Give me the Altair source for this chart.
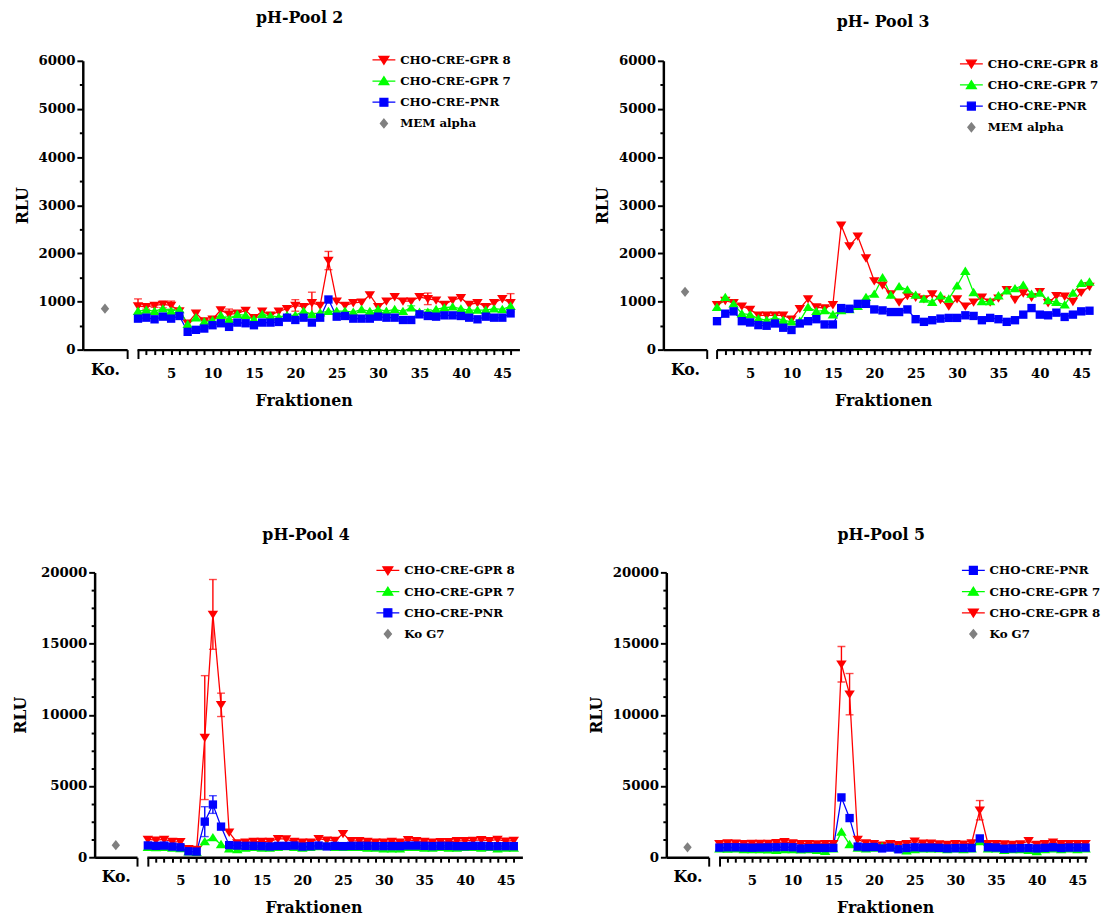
import altair as alt
import pandas as pd

FONT = "DejaVu Serif"
FRACTIONS = list(range(1, 47))

GPR8 = "CHO-CRE-GPR 8"
GPR7 = "CHO-CRE-GPR 7"
PNR = "CHO-CRE-PNR"
MEM = "MEM alpha"
KOG7 = "Ko G7"

# ---------------- data ----------------
P2_GPR8 = [904, 890, 918, 938, 918, 800, 548, 753, 596, 630, 822, 733, 753, 815, 664, 795, 712, 795, 849, 918,
           890, 973, 918, 1850, 1007, 918, 973, 986, 1137, 890, 1007, 1096, 1007, 1007, 1096, 1055, 1027, 938, 1027, 1075,
           938, 973, 890, 973, 1055, 973]
P2_GPR7 = [800, 822, 800, 849, 800, 835, 527, 664, 582, 610, 712, 630, 733, 712, 630, 733, 699, 678, 712, 712,
           800, 733, 767, 795, 800, 800, 781, 835, 795, 835, 800, 835, 795, 870, 781, 781, 835, 870, 890, 849,
           822, 822, 822, 849, 835, 904]
P2_PNR = [644, 664, 630, 685, 644, 699, 370, 411, 438, 507, 548, 473, 562, 548, 507, 562, 562, 575, 664, 616,
          664, 562, 664, 1041, 685, 699, 644, 644, 644, 685, 664, 664, 616, 616, 733, 699, 685, 712, 712, 699,
          664, 630, 685, 664, 664, 753]
P2_KO = 850
P2_SD = {GPR8: {1: 150, 2: 50, 3: 40, 4: 70, 5: 90, 12: 110, 20: 120, 22: 220, 24: 190, 36: 120, 46: 190},
         GPR7: {5: 40, 12: 60, 13: 50, 34: 40, 36: 50}}

P3_GPR8 = [930, 1019, 971, 903, 835, 713, 713, 713, 713, 632, 849, 1053, 883, 863, 930, 2582, 2154, 2357, 1902, 1427,
           1338, 1155, 985, 1121, 1087, 1053, 1155, 1039, 903, 1053, 903, 985, 1087, 985, 1067, 1243, 1039, 1175, 1087, 1202,
           971, 1121, 1107, 999, 1189, 1311]
P3_GPR7 = [883, 1087, 951, 747, 727, 645, 611, 659, 611, 577, 591, 883, 795, 815, 727, 815, 835, 903, 1087, 1155,
           1495, 1134, 1311, 1243, 1134, 1053, 985, 1121, 1053, 1325, 1630, 1189, 999, 999, 1121, 1223, 1270, 1338, 1155, 1175,
           1019, 985, 930, 1175, 1379, 1406]
P3_PNR = [591, 747, 795, 591, 564, 509, 496, 543, 455, 408, 543, 591, 632, 523, 523, 863, 849, 951, 951, 835,
          815, 781, 781, 835, 632, 577, 611, 645, 659, 659, 713, 700, 611, 659, 632, 577, 611, 727, 863, 727,
          713, 768, 679, 727, 795, 808]
P3_KO = 1200
P3_SD = {}

P4_GPR8 = [1250, 1200, 1250, 1100, 1080, 600, 550, 8400, 17050, 10700, 1750, 1000, 1050, 1100, 1100, 1100, 1300, 1280, 1100, 1050,
           1050, 1300, 1200, 1180, 1650, 1150, 1150, 1100, 1050, 1050, 1100, 1050, 1220, 1150, 1100, 1050, 1080, 1080, 1150, 1150,
           1180, 1220, 1150, 1250, 1120, 1180]
P4_GPR7 = [700, 680, 700, 650, 620, 380, 350, 1100, 1380, 900, 600, 550, 650, 700, 650, 650, 700, 750, 700, 650,
           700, 750, 800, 700, 700, 700, 700, 650, 650, 600, 600, 600, 700, 700, 650, 650, 700, 650, 650, 700,
           700, 650, 700, 600, 650, 650]
P4_PNR = [830, 800, 820, 750, 700, 420, 400, 2500, 3700, 2150, 850, 820, 800, 800, 780, 760, 800, 800, 820, 750,
          780, 820, 760, 800, 780, 800, 800, 800, 780, 780, 780, 780, 820, 820, 800, 780, 800, 800, 780, 780,
          800, 800, 780, 780, 780, 780]
P4_KO = 850
P4_SD = {GPR8: {8: 4350, 9: 2450, 10: 820}, PNR: {8: 1050, 9: 620}}

P5_GPR8 = [950, 1000, 980, 950, 970, 970, 960, 1020, 1080, 1000, 950, 950, 930, 950, 950, 13550, 11450, 1250, 1000, 950,
           850, 950, 880, 950, 1130, 980, 980, 930, 900, 950, 920, 1000, 3300, 950, 950, 930, 900, 930, 1150, 900,
           950, 1050, 950, 950, 950, 950]
P5_GPR7 = [600, 580, 600, 550, 550, 550, 520, 500, 550, 550, 520, 550, 500, 420, 600, 1780, 900, 650, 600, 650,
           750, 700, 600, 450, 550, 600, 600, 600, 550, 600, 550, 600, 1100, 600, 600, 500, 550, 550, 500, 400,
           550, 600, 550, 600, 550, 600]
P5_PNR = [680, 700, 700, 680, 670, 680, 690, 700, 720, 700, 620, 640, 650, 650, 660, 4200, 2750, 750, 700, 720,
          620, 680, 560, 650, 700, 680, 680, 660, 620, 640, 650, 650, 1320, 700, 680, 600, 620, 640, 650, 620,
          660, 700, 650, 680, 680, 680]
P5_KO = 700
P5_SD = {GPR8: {16: 1250, 17: 1450, 33: 680}}

# ---------------- styles ----------------
COLOR = {GPR8: "#ff0000", GPR7: "#00ff00", PNR: "#0000ff"}
KO_COLOR = "#808080"
TRI_DOWN = "M-1.25,-0.9L1.25,-0.9L0,1.1Z"
TRI_UP = "M-1.25,0.9L1.25,0.9L0,-1.1Z"
SQUARE = "M-1,-1H1V1H-1Z"
DIAMOND = "M0,-1.1L0.9,0L0,1.1L-0.9,0Z"
LINE = "M-2.9,0H2.9"
MARK_SHAPE = {GPR8: TRI_DOWN, GPR7: TRI_UP, PNR: SQUARE}
DRAW_ORDER = [GPR8, GPR7, PNR]
INDEP = dict(fill="independent", stroke="independent", shape="independent")


def build_panel(title, title_dx, values, sds, order, ko_label, ko_value, ymax, major, minor,
                ko_w, frac_w, frac_dom, h, leg_x, leg_y, title_offset, rlu_pad, spacer_w=0):
    rows = []
    for name in DRAW_ORDER:
        sd_map = sds.get(name, {})
        for f, v in zip(FRACTIONS, values[name]):
            s = sd_map.get(f, 0)
            rows.append(dict(series=name, f=f, value=v, lo=v - s, hi=v + s, sd=s))
    df = pd.DataFrame(rows)

    names = order + [ko_label]
    colors = [COLOR[n] for n in order] + [KO_COLOR]
    leg_shapes = [LINE + MARK_SHAPE[n] for n in order] + [DIAMOND]

    xs = alt.Scale(domain=frac_dom, nice=False, zero=False)
    ys = alt.Scale(domain=[0, ymax], nice=False)
    x_axis = alt.Axis(values=FRACTIONS, labelExpr="datum.value % 5 === 0 ? datum.label : ''",
                      tickSize={"condition": {"test": "datum.value === 1", "value": 9}, "value": 5},
                      title="Fraktionen", titleX=169, titlePadding=9, labelPadding=12,
                      labelOverlap=False, grid=False)
    X = alt.X("f:Q", scale=xs, axis=x_axis)
    Y = alt.Y("value:Q", scale=ys, axis=None)

    base = alt.Chart(df)
    layers = []
    for n in DRAW_ORDER:
        err = base.transform_filter(alt.datum.series == n).transform_filter("datum.sd > 0")
        layers.append(err.mark_rule(strokeWidth=1.4, color=COLOR[n]).encode(
            x=X, y=alt.Y("lo:Q", scale=ys, axis=None), y2="hi:Q"))
        layers.append(err.mark_tick(orient="horizontal", size=8, thickness=1.4, color=COLOR[n]).encode(
            x=X, y=alt.Y("hi:Q", scale=ys, axis=None)))
        layers.append(err.mark_tick(orient="horizontal", size=8, thickness=1.4, color=COLOR[n]).encode(
            x=X, y=alt.Y("lo:Q", scale=ys, axis=None)))
    for n in DRAW_ORDER:
        layers.append(base.transform_filter(alt.datum.series == n)
                      .mark_line(strokeWidth=1.3, color=COLOR[n]).encode(x=X, y=Y))
    for n in DRAW_ORDER:
        layers.append(base.transform_filter(alt.datum.series == n)
                      .mark_point(shape=MARK_SHAPE[n], filled=True, size=72, opacity=1, color=COLOR[n])
                      .encode(x=X, y=Y))

    color_sc = alt.Scale(domain=names, range=colors)
    leg = alt.Legend(title=None, orient="none", legendX=leg_x, legendY=leg_y, symbolSize=64,
                     symbolStrokeWidth=1.3, labelFont=FONT, labelFontWeight="bold", labelFontSize=12,
                     labelColor="black", labelOffset=10.5, rowPadding=7.5, padding=0, symbolOpacity=1)
    legend_df = pd.DataFrame({"series": pd.Series([], dtype="object")})
    layers.append(alt.Chart(legend_df).mark_point(strokeWidth=1.3, opacity=1).encode(
        fill=alt.Fill("series:N", scale=color_sc, legend=leg),
        stroke=alt.Stroke("series:N", scale=color_sc, legend=leg),
        shape=alt.Shape("series:N", scale=alt.Scale(domain=names, range=leg_shapes), legend=leg)))

    frac = alt.layer(*layers).properties(
        width=frac_w, height=h,
        title=alt.TitleParams(text=title, dx=title_dx, offset=title_offset))

    ko_df = pd.DataFrame({"pos": [0.5], "value": [ko_value]})
    y_vals = list(range(0, ymax + 1, minor))
    ko = alt.Chart(ko_df).mark_point(shape=DIAMOND, filled=True, size=90, color=KO_COLOR, opacity=1).encode(
        x=alt.X("pos:Q", scale=alt.Scale(domain=[0, 1], nice=False, zero=False),
                axis=alt.Axis(values=[0.5, 1], labelExpr="datum.value === 0.5 ? 'Ko.' : ''",
                              tickSize={"condition": {"test": "datum.value === 1", "value": 9}, "value": 0},
                              title=None, labelPadding=12, labelFontSize=16, labelOverlap=False, grid=False)),
        y=alt.Y("value:Q", scale=ys,
                axis=alt.Axis(values=y_vals, format="d",
                              labelExpr=f"datum.value % {major} === 0 ? datum.label : ''",
                              tickSize={"condition": {"test": f"datum.value % {major} === 0", "value": 6},
                                        "value": 3.5},
                              title="RLU", titlePadding=rlu_pad, labelPadding=2, labelOverlap=False, grid=False))
    ).properties(width=ko_w, height=h)

    parts = [ko, frac]
    if spacer_w:
        spacer = alt.Chart(pd.DataFrame({"s": [0]})).mark_point(opacity=0).properties(width=spacer_w, height=h)
        parts = [spacer] + parts
    return alt.hconcat(*parts, spacing=10, bounds="flush").resolve_scale(**INDEP)


p2 = build_panel("pH-Pool 2", -29, {GPR8: P2_GPR8, GPR7: P2_GPR7, PNR: P2_PNR}, P2_SD,
                 [GPR8, GPR7, PNR], MEM, P2_KO, 6000, 1000, 500,
                 45, 388, [0.88, 47.07], 293, 244.5, -7, 28, 8)
p3 = build_panel("pH- Pool 3", -21, {GPR8: P3_GPR8, GPR7: P3_GPR7, PNR: P3_PNR}, P3_SD,
                 [GPR8, GPR7, PNR], MEM, P3_KO, 6000, 1000, 500,
                 44, 380, [0.95, 46.2], 293, 252.5, -3, 28, 8)
p4 = build_panel("pH-Pool 4", -29, {GPR8: P4_GPR8, GPR7: P4_GPR7, PNR: P4_PNR}, P4_SD,
                 [GPR8, GPR7, PNR], KOG7, P4_KO, 20000, 5000, 1250,
                 43, 381, [0.88, 47.06], 289, 238.5, -8, 22, 12, spacer_w=2)
p5 = build_panel("pH-Pool 5", -22, {GPR8: P5_GPR8, GPR7: P5_GPR7, PNR: P5_PNR}, P5_SD,
                 [PNR, GPR7, GPR8], KOG7, P5_KO, 20000, 5000, 1250,
                 43, 374, [0.9, 46.2], 289, 252.5, -8, 22, 8)

row1 = alt.hconcat(p2, p3, spacing=76).resolve_scale(**INDEP)
row2 = alt.hconcat(p4, p5, spacing=67).resolve_scale(**INDEP)

chart = alt.concat(row1, row2, columns=1, spacing=120, align="none").resolve_scale(**INDEP).properties(
    padding={"left": 13, "top": 4, "right": 0, "bottom": 0}
).configure_axis(
    domainColor="black", domainWidth=2.5, tickColor="black", tickWidth=2,
    labelFont=FONT, labelFontWeight="bold", labelFontSize=13.5, labelColor="black",
    titleFont=FONT, titleFontWeight="bold", titleFontSize=16, titleColor="black"
).configure_view(strokeWidth=0).configure_title(
    font=FONT, fontSize=16, fontWeight="bold", color="black", anchor="middle"
)

chart.save("out.html", embed_options={"renderer": "svg", "actions": False})
